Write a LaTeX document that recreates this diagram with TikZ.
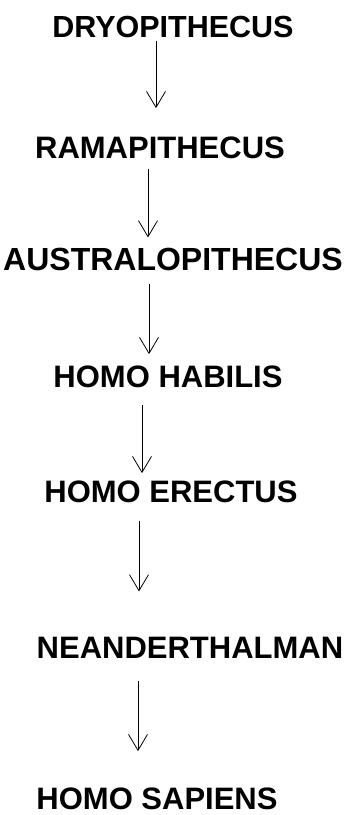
\documentclass[tikz,border=0pt]{standalone}
\usepackage{fontspec}
\setmainfont{Liberation Sans}
\usetikzlibrary{arrows.meta}

\begin{document}
\begin{tikzpicture}[x=1pt, y=-1pt,
    taxon/.style={inner sep=0pt, anchor=base, font=\bfseries\fontsize{31}{36}\selectfont},
    evo/.style={-{Straight Barb[length=16pt,width=19pt]}, line width=0.8pt}
  ]
  \useasboundingbox (0,0) rectangle (347,815);
  \node[taxon, font=\bfseries\fontsize{30.5}{36}\selectfont] (dryo) at (173,37) {DRYOPITHECUS};
  \node[taxon] (rama) at (160,158) {RAMAPITHECUS};
  \node[taxon, font=\bfseries\fontsize{32}{36}\selectfont] (austral) at (173,270) {AUSTRALOPITHECUS};
  \node[taxon] (habilis) at (168,387) {HOMO HABILIS};
  \node[taxon] (erectus) at (171,502) {HOMO ERECTUS};
  \node[taxon] (neander) at (190,658) {NEANDERTHALMAN};
  \node[taxon] (sapiens) at (157,809) {HOMO SAPIENS};
  % arrows
  \draw[evo] ([xshift=-17pt,yshift=-3pt]dryo.south) -- ([xshift=-4pt,yshift=28pt]rama.north);
  \draw[evo] ([xshift=-12pt,yshift=-10pt]rama.south) -- ([xshift=-25pt,yshift=10pt]austral.north);
  \draw[evo] ([xshift=-24pt,yshift=-13pt]austral.south) -- ([xshift=-19pt,yshift=11pt]habilis.north);
  \draw[evo] ([xshift=-26pt,yshift=-17pt]habilis.south) -- ([xshift=-29pt,yshift=7pt]erectus.north);
  \draw[evo] ([xshift=-32pt,yshift=-18pt]erectus.south) -- ([xshift=-51pt,yshift=45pt]neander.north);
  \draw[evo] ([xshift=-52pt,yshift=-23pt]neander.south) -- ([xshift=-19pt,yshift=36pt]sapiens.north);
\end{tikzpicture}
\end{document}
